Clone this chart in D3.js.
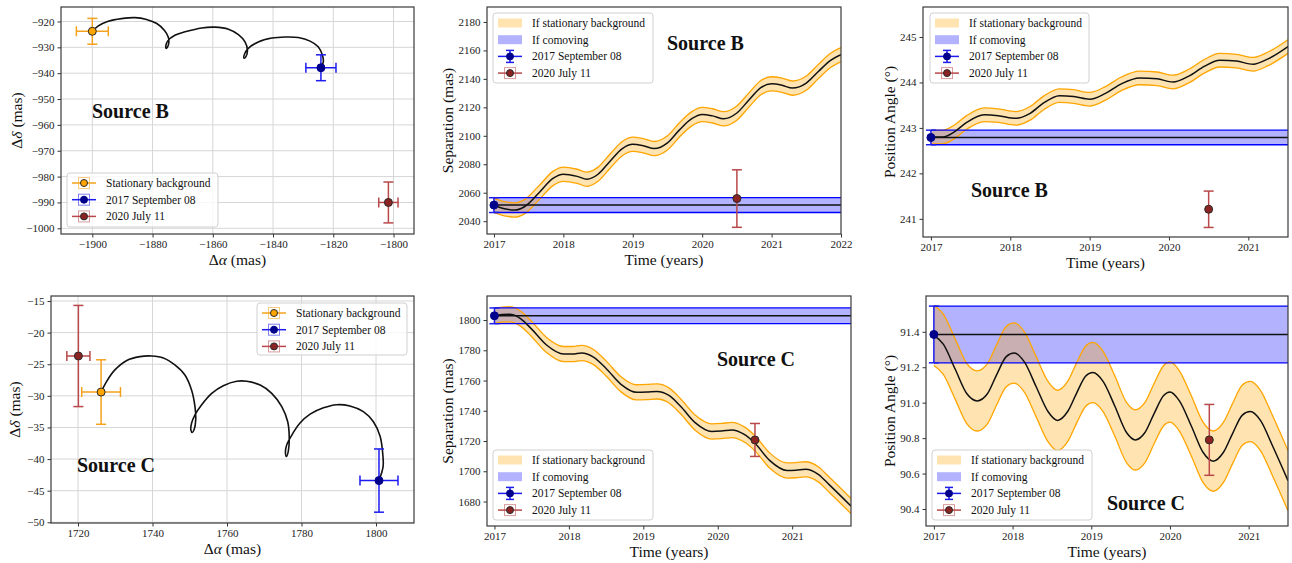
<!DOCTYPE html>
<html>
<head>
<meta charset="utf-8">
<script src="https://cdn.jsdelivr.net/npm/d3@7"></script>
<style>
    body { margin: 0; background: #fff; }
    svg text { font-family: "Liberation Serif", "DejaVu Serif", serif; fill: #111; }
    .tick text { font-size: 11px; fill: #222; }
    .tick line { stroke: #333; }
</style>
</head>
<body>
<div id="fig"></div>
<script>
// ---- data ----
const epochLabels = ["Stationary background", "2017 September 08", "2020 July 11"];
const bandLabels = ["If stationary background", "If comoving"];

// sky offsets [dRA, dDec, errRA, errDec] : stationary bg, 2017, 2020
const skyB = [[-1900.0, -923.8, 5.3, 5.0], [-1824.1, -937.9, 5.0, 5.0], [-1801.7, -990.0, 3.2, 7.9]];
const skyC = [[1726.2, -29.4, 5.2, 5.1], [1800.8, -43.4, 5.1, 5.0], [1720.1, -23.7, 3.1, 8.0]];

// background track on the sky
const trackB = [[-1900.0,-923.8],[-1898.0,-921.7],[-1894.7,-919.9],[-1890.3,-918.9],[-1885.8,-918.5],
    [-1882.0,-919.2],[-1878.6,-920.8],[-1876.1,-923.4],[-1874.8,-926.0],[-1874.6,-928.2],[-1875.0,-929.8],
    [-1875.5,-930.4],[-1875.6,-929.4],[-1874.9,-927.4],[-1872.6,-925.3],[-1869.2,-924.0],[-1863.7,-922.5],
    [-1859.3,-922.2],[-1854.8,-923.0],[-1851.5,-925.1],[-1849.3,-927.9],[-1848.5,-931.1],[-1849.0,-933.6],
    [-1849.6,-934.2],[-1849.6,-933.0],[-1848.4,-930.6],[-1844.9,-927.9],[-1840.4,-926.4],[-1836.0,-926.0],
    [-1831.6,-926.2],[-1827.7,-927.6],[-1825.0,-929.8],[-1823.6,-933.1],[-1823.3,-935.6],[-1824.1,-937.9]];
const trackC = [[1726.2,-29.4],[1727.7,-27.7],[1729.9,-25.9],[1733.1,-24.4],[1736.6,-23.8],[1739.8,-23.7],
    [1742.9,-24.0],[1746.0,-25.1],[1748.7,-26.7],[1750.5,-29.1],[1751.4,-31.7],[1751.6,-33.8],[1751.2,-35.3],
    [1750.7,-35.8],[1750.3,-35.4],[1750.5,-34.3],[1751.4,-33.0],[1753.2,-31.4],[1755.9,-29.6],[1759.0,-28.4],
    [1762.6,-27.7],[1765.3,-27.7],[1768.9,-28.3],[1772.0,-29.6],[1774.7,-31.7],[1776.3,-34.1],[1776.7,-36.4],
    [1776.5,-38.6],[1776.0,-39.6],[1775.7,-39.1],[1776.0,-37.8],[1777.4,-36.2],[1779.6,-34.3],[1782.3,-32.9],
    [1785.9,-31.9],[1789.4,-31.4],[1793.0,-31.6],[1796.6,-32.5],[1799.3,-34.1],[1801.1,-36.4],[1801.8,-39.1],
    [1801.9,-41.2],[1800.8,-43.4]];

// separation / position angle if stationary background [year, value]
const sepB = [[2017.0,2051.0],[2017.15,2048.8],[2017.3,2047.8],[2017.45,2050.5],[2017.65,2060],[2017.85,2070],
    [2018.0,2073],[2018.2,2071.5],[2018.34,2069.5],[2018.5,2073],[2018.67,2082],[2018.85,2091],[2019.0,2094],
    [2019.15,2093],[2019.31,2091],[2019.5,2095],[2019.67,2104],[2019.85,2112],[2020.0,2115],[2020.15,2114],
    [2020.31,2112],[2020.5,2116],[2020.67,2125],[2020.85,2134],[2021.0,2136.5],[2021.15,2135.5],[2021.3,2133.5],
    [2021.5,2137],[2021.67,2145],[2021.85,2153],[2022.0,2157]];
const paB = [[2017.0,242.80],[2017.15,242.80],[2017.3,242.92],[2017.45,243.12],[2017.67,243.29],[2017.85,243.27],
    [2018.07,243.21],[2018.25,243.32],[2018.42,243.55],[2018.62,243.71],[2018.8,243.69],[2019.0,243.63],
    [2019.2,243.76],[2019.4,243.97],[2019.63,244.10],[2019.85,244.08],[2020.05,244.01],[2020.25,244.14],
    [2020.45,244.36],[2020.64,244.49],[2020.85,244.47],[2021.06,244.40],[2021.25,244.52],[2021.5,244.79]];
const sepC = [[2017.0,1802.8],[2017.1,1803.6],[2017.2,1803.8],[2017.35,1801],[2017.5,1794],[2017.7,1783.5],
    [2017.93,1777.5],[2018.05,1777.5],[2018.17,1778.2],[2018.33,1775.5],[2018.5,1768],[2018.7,1757.5],
    [2018.91,1752.2],[2019.05,1752.4],[2019.18,1752.8],[2019.35,1750],[2019.5,1743],[2019.7,1732],
    [2019.92,1726.3],[2020.05,1726.6],[2020.19,1727.3],[2020.35,1724.5],[2020.5,1718.5],[2020.7,1707],
    [2020.93,1700.5],[2021.05,1700.7],[2021.18,1701.3],[2021.35,1698],[2021.5,1691],[2021.79,1677]];
const paC = [[2017.0,91.38],[2017.12,91.33],[2017.27,91.19],[2017.42,91.05],[2017.55,91.01],[2017.68,91.05],
    [2017.8,91.16],[2017.92,91.26],[2018.02,91.28],[2018.15,91.23],[2018.3,91.09],[2018.45,90.95],[2018.57,90.90],
    [2018.7,90.95],[2018.82,91.06],[2018.93,91.15],[2019.02,91.17],[2019.15,91.12],[2019.3,90.98],[2019.45,90.83],
    [2019.56,90.79],[2019.68,90.83],[2019.8,90.94],[2019.92,91.04],[2020.0,91.06],[2020.12,91.01],[2020.27,90.87],
    [2020.42,90.72],[2020.55,90.67],[2020.68,90.72],[2020.8,90.83],[2020.92,90.93],[2021.02,90.95],[2021.15,90.90],
    [2021.3,90.76],[2021.5,90.56]];

// half widths of the background bands
const sepBWidth = 5, paBWidth = 0.15, sepCWidth = 5, paCWidth = 0.17;
// comoving prediction [value, half width]
const sepBComoving = [2051.3, 5.2], paBComoving = [242.79, 0.16];
const sepCComoving = [1802.8, 5.2], paCComoving = [91.385, 0.16];
// measurements [year, value, err] : 2017, 2020
const sepBObs = [[2017.0, 2051.3, 5.2], [2020.5, 2055.9, 20.2]];
const paBObs = [[2017.0, 242.79, 0.16], [2020.5, 241.21, 0.4]];
const sepCObs = [[2017.0, 1802.8, 5.2], [2020.5, 1720.7, 10.9]];
const paCObs = [[2017.0, 91.385, 0.16], [2020.5, 90.79, 0.2]];

// tick labels
const skyBxTicks = [-1900, -1880, -1860, -1840, -1820, -1800];
const skyByTicks = [-1000, -990, -980, -970, -960, -950, -940, -930, -920];
const skyCxTicks = [1720, 1740, 1760, 1780, 1800];
const skyCyTicks = [-50, -45, -40, -35, -30, -25, -20, -15];
const yearTicks5 = [2017, 2018, 2019, 2020, 2021, 2022];
const yearTicks4 = [2017, 2018, 2019, 2020, 2021];
const sepBTicks = [2040, 2060, 2080, 2100, 2120, 2140, 2160, 2180];
const paBTicks = [241, 242, 243, 244, 245];
const sepCTicks = [1680, 1700, 1720, 1740, 1760, 1780, 1800];
const paCTicks = [90.4, 90.6, 90.8, 91.0, 91.2, 91.4];

// ---- styles ----
const ORANGE = "#ffa500", BLUE = "#0000ff";
const epochStyles = [
    {line: "#f4a21c", face: "#ffa500", edge: "#2a2a2a"},
    {line: "#1c1cf0", face: "#00008b", edge: "#00008b"},
    {line: "#b9484a", face: "#8b2323", edge: "#2a2a2a"}
];

const svg = d3.select("#fig").append("svg")
    .attr("width", 1292)
    .attr("height", 563);

function makePanel(p) {
    let w = p.right - p.left, h = p.bottom - p.top;
    let g = svg.append("g").attr("transform", `translate(${p.left},${p.top})`);
    let x = d3.scaleLinear().domain(p.xDomain).range([0, w]);
    let y = d3.scaleLinear().domain(p.yDomain).range([h, 0]);

    g.append("clipPath").attr("id", "clip" + p.id)
        .append("rect").attr("width", w).attr("height", h);

    if (p.grid) {
        g.append("g").selectAll("line").data(p.xTicks).join("line")
            .attr("x1", d => x(d)).attr("x2", d => x(d))
            .attr("y1", 0).attr("y2", h)
            .attr("stroke", "#d6d6d6").attr("stroke-width", 1);
        g.append("g").selectAll("line").data(p.yTicks).join("line")
            .attr("y1", d => y(d)).attr("y2", d => y(d))
            .attr("x1", 0).attr("x2", w)
            .attr("stroke", "#d6d6d6").attr("stroke-width", 1);
    }

    let xAxis = d3.axisBottom(x).tickValues(p.xTicks).tickSize(3.5).tickPadding(3)
        .tickFormat(p.xFormat || d3.format("d"));
    let yAxis = d3.axisLeft(y).tickValues(p.yTicks).tickSize(3.5).tickPadding(3)
        .tickFormat(p.yFormat || d3.format("d"));
    g.append("g").attr("transform", `translate(0,${h})`).call(xAxis)
        .call(a => a.select(".domain").remove());
    g.append("g").call(yAxis)
        .call(a => a.select(".domain").remove());

    let plot = g.append("g").attr("clip-path", `url(#clip${p.id})`);
    let top = g.append("g");

    // axis labels
    svg.append("text")
        .attr("x", p.left + w / 2).attr("y", p.bottom + 31)
        .attr("text-anchor", "middle").attr("font-size", 15.5)
        .call(t => p.xLabel(t));
    svg.append("text")
        .attr("transform", `translate(${p.yLabelX + 5},${p.top + h / 2}) rotate(-90)`)
        .attr("text-anchor", "middle").attr("font-size", 15.5)
        .call(t => p.yLabel(t));

    // frame
    g.append("rect").attr("width", w).attr("height", h)
        .attr("fill", "none").attr("stroke", "#3a3a3a").attr("stroke-width", 1.2);

    return {g, plot, top, x, y, w, h};
}

function greek(letter) {
    return t => {
        t.append("tspan").text("Δ");
        t.append("tspan").attr("font-style", "italic").text(letter);
        t.append("tspan").text(" (mas)");
    };
}
function plain(s) {
    return t => t.text(s);
}

function errorbar(layer, x, y, d, st) {
    let cap = 5;
    let cx = x(d[0]), cy = y(d[1]);
    let e = layer.append("g").attr("stroke", st.line).attr("stroke-width", 1.5);
    if (d[2]) {
        let xl = x(d[0] - d[2]), xr = x(d[0] + d[2]);
        e.append("line").attr("x1", xl).attr("x2", xr).attr("y1", cy).attr("y2", cy);
        [xl, xr].forEach(v => e.append("line").attr("x1", v).attr("x2", v)
            .attr("y1", cy - cap).attr("y2", cy + cap));
    }
    if (d[3]) {
        let yt = y(d[1] + d[3]), yb = y(d[1] - d[3]);
        e.append("line").attr("x1", cx).attr("x2", cx).attr("y1", yt).attr("y2", yb);
        [yt, yb].forEach(v => e.append("line").attr("y1", v).attr("y2", v)
            .attr("x1", cx - cap).attr("x2", cx + cap));
    }
    layer.append("circle").attr("cx", cx).attr("cy", cy).attr("r", 4)
        .attr("fill", st.face).attr("stroke", st.edge).attr("stroke-width", 1);
}

function legend(box, entries) {
    let lg = svg.append("g");
    lg.append("rect").attr("x", box.x).attr("y", box.y)
        .attr("width", box.w).attr("height", box.h).attr("rx", 3)
        .attr("fill", "white").attr("fill-opacity", 0.8)
        .attr("stroke", "#d0d0d0").attr("stroke-width", 1);
    entries.forEach((en, i) => {
        let ry = box.y + 10 + i * 16.7;
        let hx = box.x + 5, mx = box.x + 17;
        if (en.kind === "patch") {
            lg.append("rect").attr("x", hx).attr("y", ry - 4.5)
                .attr("width", 24).attr("height", 9)
                .attr("fill", en.fill).attr("fill-opacity", 0.3);
        } else {
            let st = en.st;
            let e = lg.append("g").attr("stroke", st.line).attr("stroke-width", 1.5);
            e.append("line").attr("x1", hx).attr("x2", hx + 24).attr("y1", ry).attr("y2", ry);
            if (en.box) {
                e.append("rect").attr("x", mx - 5.5).attr("y", ry - 5.5)
                    .attr("width", 11).attr("height", 11)
                    .attr("fill", "none").attr("stroke-opacity", 0.55).attr("stroke-width", 1);
            } else {
                e.append("line").attr("x1", mx).attr("x2", mx).attr("y1", ry - 6).attr("y2", ry + 6);
                [ry - 6, ry + 6].forEach(v => e.append("line")
                    .attr("x1", mx - 4).attr("x2", mx + 4).attr("y1", v).attr("y2", v));
            }
            lg.append("circle").attr("cx", mx).attr("cy", ry).attr("r", 3.5)
                .attr("fill", st.face).attr("stroke", st.edge).attr("stroke-width", 1);
        }
        lg.append("text").attr("x", box.x + 39).attr("y", ry).attr("dy", "0.35em")
            .attr("font-size", 11.5).text(en.label);
    });
}

function sourceLabel(x, y, s) {
    svg.append("text").attr("x", x).attr("y", y)
        .attr("font-size", 20).attr("font-weight", "bold").text(s);
}

function drawSky(p, sky, track) {
    let P = makePanel(p);
    let line = d3.line().x(d => P.x(d[0])).y(d => P.y(d[1])).curve(d3.curveCatmullRom.alpha(0.5));
    P.plot.append("path").datum(track).attr("d", line)
        .attr("fill", "none").attr("stroke", "#111").attr("stroke-width", 1.6);
    sky.forEach((d, i) => errorbar(P.top, P.x, P.y, d, epochStyles[i]));
    legend(p.legendBox, epochLabels.map((l, i) => ({kind: "err", st: epochStyles[i], label: l, box: true})));
    sourceLabel(p.labelPos[0], p.labelPos[1], p.source);
}

function drawTime(p, track, half, comoving, obs) {
    let P = makePanel(p);
    let x = P.x, y = P.y;
    let xEnd = p.xDomain[1];
    let comovingTrack = [[obs[0][0], comoving[0]], [xEnd, comoving[0]]];

    let band = d3.area().x(d => x(d[0]))
        .y0(d => y(d[1] - half)).y1(d => y(d[1] + half)).curve(d3.curveMonotoneX);
    let edge = off => d3.line().x(d => x(d[0])).y(d => y(d[1] + off)).curve(d3.curveMonotoneX);
    let flat = off => d3.line().x(d => x(d[0])).y(d => y(d[1] + off));

    // comoving fill
    P.plot.append("path").datum(comovingTrack)
        .attr("d", d3.area().x(d => x(d[0])).y0(d => y(d[1] - comoving[1])).y1(d => y(d[1] + comoving[1])))
        .attr("fill", BLUE).attr("fill-opacity", 0.3);
    // background band
    P.plot.append("path").datum(track).attr("d", band)
        .attr("fill", ORANGE).attr("fill-opacity", 0.3);
    [half, -half].forEach(o => P.plot.append("path").datum(track).attr("d", edge(o))
        .attr("fill", "none").attr("stroke", ORANGE).attr("stroke-width", 1.3));
    [comoving[1], -comoving[1]].forEach(o => P.plot.append("path").datum(comovingTrack).attr("d", flat(o))
        .attr("fill", "none").attr("stroke", BLUE).attr("stroke-width", 1.3));
    // central lines
    P.plot.append("path").datum(comovingTrack).attr("d", flat(0))
        .attr("fill", "none").attr("stroke", "#111").attr("stroke-width", 1.5);
    P.plot.append("path").datum(track).attr("d", edge(0))
        .attr("fill", "none").attr("stroke", "#111").attr("stroke-width", 1.5);

    obs.forEach((d, i) => errorbar(P.top, x, y, [d[0], d[1], 0, d[2]], epochStyles[i + 1]));

    legend(p.legendBox, [
        {kind: "patch", fill: ORANGE, label: bandLabels[0]},
        {kind: "patch", fill: BLUE, label: bandLabels[1]},
        {kind: "err", st: epochStyles[1], label: epochLabels[1], box: false},
        {kind: "err", st: epochStyles[2], label: epochLabels[2], box: true}
    ]);
    sourceLabel(p.labelPos[0], p.labelPos[1], p.source);
}

// ---- panels ----
drawSky({id: 1, left: 61, top: 7, right: 414, bottom: 234,
    xDomain: [-1910.4, -1793.2], yDomain: [-1002.2, -914.4],
    xTicks: skyBxTicks, yTicks: skyByTicks, grid: true,
    xLabel: greek("α"), yLabel: greek("δ"), yLabelX: 17,
    legendBox: {x: 67, y: 173, w: 151, h: 54}, labelPos: [92, 118], source: "Source B"},
    skyB, trackB);

drawTime({id: 2, left: 487, top: 7, right: 841, bottom: 234,
    xDomain: [2016.9, 2022], yDomain: [2031, 2190.5],
    xTicks: yearTicks5, yTicks: sepBTicks,
    xLabel: plain("Time (years)"), yLabel: plain("Separation (mas)"), yLabelX: 448,
    legendBox: {x: 493, y: 13, w: 160, h: 70}, labelPos: [667, 50], source: "Source B"},
    sepB, sepBWidth, sepBComoving, sepBObs);

drawTime({id: 3, left: 923, top: 7, right: 1288, bottom: 237,
    xDomain: [2016.9, 2021.5], yDomain: [240.6, 245.66],
    xTicks: yearTicks4, yTicks: paBTicks,
    xLabel: plain("Time (years)"), yLabel: plain("Position Angle (°)"), yLabelX: 890,
    legendBox: {x: 930, y: 13, w: 159, h: 70}, labelPos: [971, 197], source: "Source B"},
    paB, paBWidth, paBComoving, paBObs);

drawSky({id: 4, left: 51, top: 296, right: 414, bottom: 523,
    xDomain: [1712.75, 1810.2], yDomain: [-50.11, -14.21],
    xTicks: skyCxTicks, yTicks: skyCyTicks, grid: true,
    xLabel: greek("α"), yLabel: greek("δ"), yLabelX: 15,
    legendBox: {x: 257, y: 303, w: 150, h: 52}, labelPos: [77, 472], source: "Source C"},
    skyC, trackC);

drawTime({id: 5, left: 487, top: 296, right: 851, bottom: 526,
    xDomain: [2016.9, 2021.79], yDomain: [1663.8, 1815.9],
    xTicks: yearTicks4, yTicks: sepCTicks,
    xLabel: plain("Time (years)"), yLabel: plain("Separation (mas)"), yLabelX: 448,
    legendBox: {x: 493, y: 450, w: 160, h: 70}, labelPos: [717, 366], source: "Source C"},
    sepC, sepCWidth, sepCComoving, sepCObs);

drawTime({id: 6, left: 926, top: 296, right: 1288, bottom: 526,
    xDomain: [2016.9, 2021.5], yDomain: [90.304, 91.602],
    xTicks: yearTicks4, yTicks: paCTicks, yFormat: d3.format(".1f"),
    xLabel: plain("Time (years)"), yLabel: plain("Position Angle (°)"), yLabelX: 890,
    legendBox: {x: 932, y: 450, w: 160, h: 70}, labelPos: [1107, 510], source: "Source C"},
    paC, paCWidth, paCComoving, paCObs);
</script>
</body>
</html>
